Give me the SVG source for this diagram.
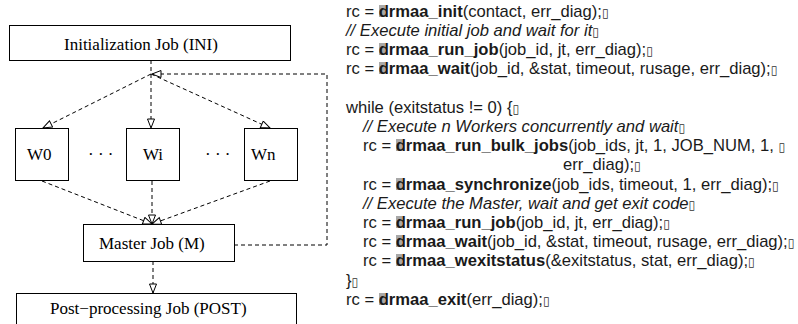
<svg xmlns="http://www.w3.org/2000/svg" width="798" height="324" viewBox="0 0 798 324">
  <style>
    .box { fill: #fff; stroke: #000; stroke-width: 1; }
    .lbl { font-family: "Liberation Serif", "Times New Roman", serif; font-size: 17px; fill: #000; }
    .edge { fill: none; stroke: #000; stroke-width: 1; stroke-dasharray: 4 3; }
    .code { font-family: "Liberation Sans", Arial, sans-serif; font-size: 16.6px; fill: #1a1a1a; }
    .b { font-weight: bold; }
    .i { font-style: italic; }
    .tofu { font-family: "DejaVu Sans", sans-serif; font-size: 12px; fill: #333; }
    .shade { fill: #a8a8a8; }
  </style>
  <defs>
    <marker id="hollow" markerUnits="userSpaceOnUse" markerWidth="11" markerHeight="9" refX="10" refY="4" orient="auto">
      <path d="M1,0.5 L10,4 L1,7.5 Z" fill="#fff" stroke="#000" stroke-width="1"/>
    </marker>
    <!-- grey cell sitting behind the first letter of each call -->
    <rect id="cell" class="shade" x="0" y="-12" width="6" height="12"/>
  </defs>

  <rect width="798" height="324" fill="#fff"/>

  <!-- connectors -->
  <g id="connectors">
    <path class="edge" d="M151,60 V128" marker-end="url(#hollow)"/>
    <path class="edge" d="M151,74 L43,128" marker-end="url(#hollow)"/>
    <path class="edge" d="M151,74 L270,128" marker-end="url(#hollow)"/>
    <path class="edge" d="M42,181 L152,224" marker-end="url(#hollow)"/>
    <path class="edge" d="M152,181 V224" marker-end="url(#hollow)"/>
    <path class="edge" d="M270,181 L152,224" marker-end="url(#hollow)"/>
    <path class="edge" d="M153,261 V293" marker-end="url(#hollow)"/>
    <path class="edge" d="M234,245 H327 V74 H152" marker-end="url(#hollow)"/>
  </g>

  <!-- job nodes -->
  <g id="ini">
    <rect class="box" x="9.5" y="25.5" width="281" height="35"/>
    <text class="lbl" x="64" y="50">Initialization Job (INI)</text>
  </g>
  <g id="w0">
    <rect class="box" x="15.5" y="128.5" width="53" height="52"/>
    <text class="lbl" x="27" y="160">W0</text>
  </g>
  <g id="dots1">
    <text class="lbl" x="88" y="160">· · ·</text>
  </g>
  <g id="wi">
    <rect class="box" x="126.5" y="128.5" width="53" height="52"/>
    <text class="lbl" x="143" y="160">Wi</text>
  </g>
  <g id="dots2">
    <text class="lbl" x="205" y="160">· · ·</text>
  </g>
  <g id="wn">
    <rect class="box" x="244.5" y="128.5" width="53" height="52"/>
    <text class="lbl" x="251" y="160">Wn</text>
  </g>
  <g id="master">
    <rect class="box" x="83.5" y="224.5" width="151" height="37"/>
    <text class="lbl" x="99" y="249">Master Job (M)</text>
  </g>
  <g id="post">
    <rect class="box" x="16.5" y="293.5" width="280" height="40"/>
    <text class="lbl" x="50" y="314">Post−processing Job (POST)</text>
  </g>

  <!-- DRMAA program listing -->
  <g id="listing-cells">
    <use href="#cell" x="379" y="17"/>
    <use href="#cell" x="379" y="55"/>
    <use href="#cell" x="379" y="74"/>
    <use href="#cell" x="396" y="151"/>
    <use href="#cell" x="396" y="190"/>
    <use href="#cell" x="396" y="228"/>
    <use href="#cell" x="396" y="247"/>
    <use href="#cell" x="396" y="266"/>
    <use href="#cell" x="379" y="305"/>
  </g>
  <g id="listing" class="code">
    <text x="346" y="17">rc = <tspan class="b">drmaa_init</tspan>(contact, err_diag);<tspan class="tofu">▯</tspan></text>
    <text x="346" y="36" class="i">// Execute initial job and wait for it<tspan class="tofu" font-style="normal">▯</tspan></text>
    <text x="346" y="55">rc = <tspan class="b">drmaa_run_job</tspan>(job_id, jt, err_diag);<tspan class="tofu">▯</tspan></text>
    <text x="346" y="74">rc = <tspan class="b">drmaa_wait</tspan>(job_id, &amp;stat, timeout, rusage, err_diag);<tspan class="tofu">▯</tspan></text>

    <text x="346" y="113">while (exitstatus != 0) {<tspan class="tofu">▯</tspan></text>
    <text x="363" y="132" class="i">// Execute n Workers concurrently and wait<tspan class="tofu" font-style="normal">▯</tspan></text>
    <text x="363" y="151">rc = <tspan class="b">drmaa_run_bulk_jobs</tspan>(job_ids, jt, 1, JOB_NUM, 1, <tspan class="tofu">▯</tspan></text>
    <text x="563" y="170">err_diag);<tspan class="tofu">▯</tspan></text>
    <text x="363" y="190">rc = <tspan class="b">drmaa_synchronize</tspan>(job_ids, timeout, 1, err_diag);<tspan class="tofu">▯</tspan></text>
    <text x="363" y="209" class="i">// Execute the Master, wait and get exit code<tspan class="tofu" font-style="normal">▯</tspan></text>
    <text x="363" y="228">rc = <tspan class="b">drmaa_run_job</tspan>(job_id, jt, err_diag);<tspan class="tofu">▯</tspan></text>
    <text x="363" y="247">rc = <tspan class="b">drmaa_wait</tspan>(job_id, &amp;stat, timeout, rusage, err_diag);<tspan class="tofu">▯</tspan></text>
    <text x="363" y="266">rc = <tspan class="b">drmaa_wexitstatus</tspan>(&amp;exitstatus, stat, err_diag);<tspan class="tofu">▯</tspan></text>
    <text x="346" y="286">}<tspan class="tofu">▯</tspan></text>
    <text x="346" y="305">rc = <tspan class="b">drmaa_exit</tspan>(err_diag);<tspan class="tofu">▯</tspan></text>
  </g>
</svg>
